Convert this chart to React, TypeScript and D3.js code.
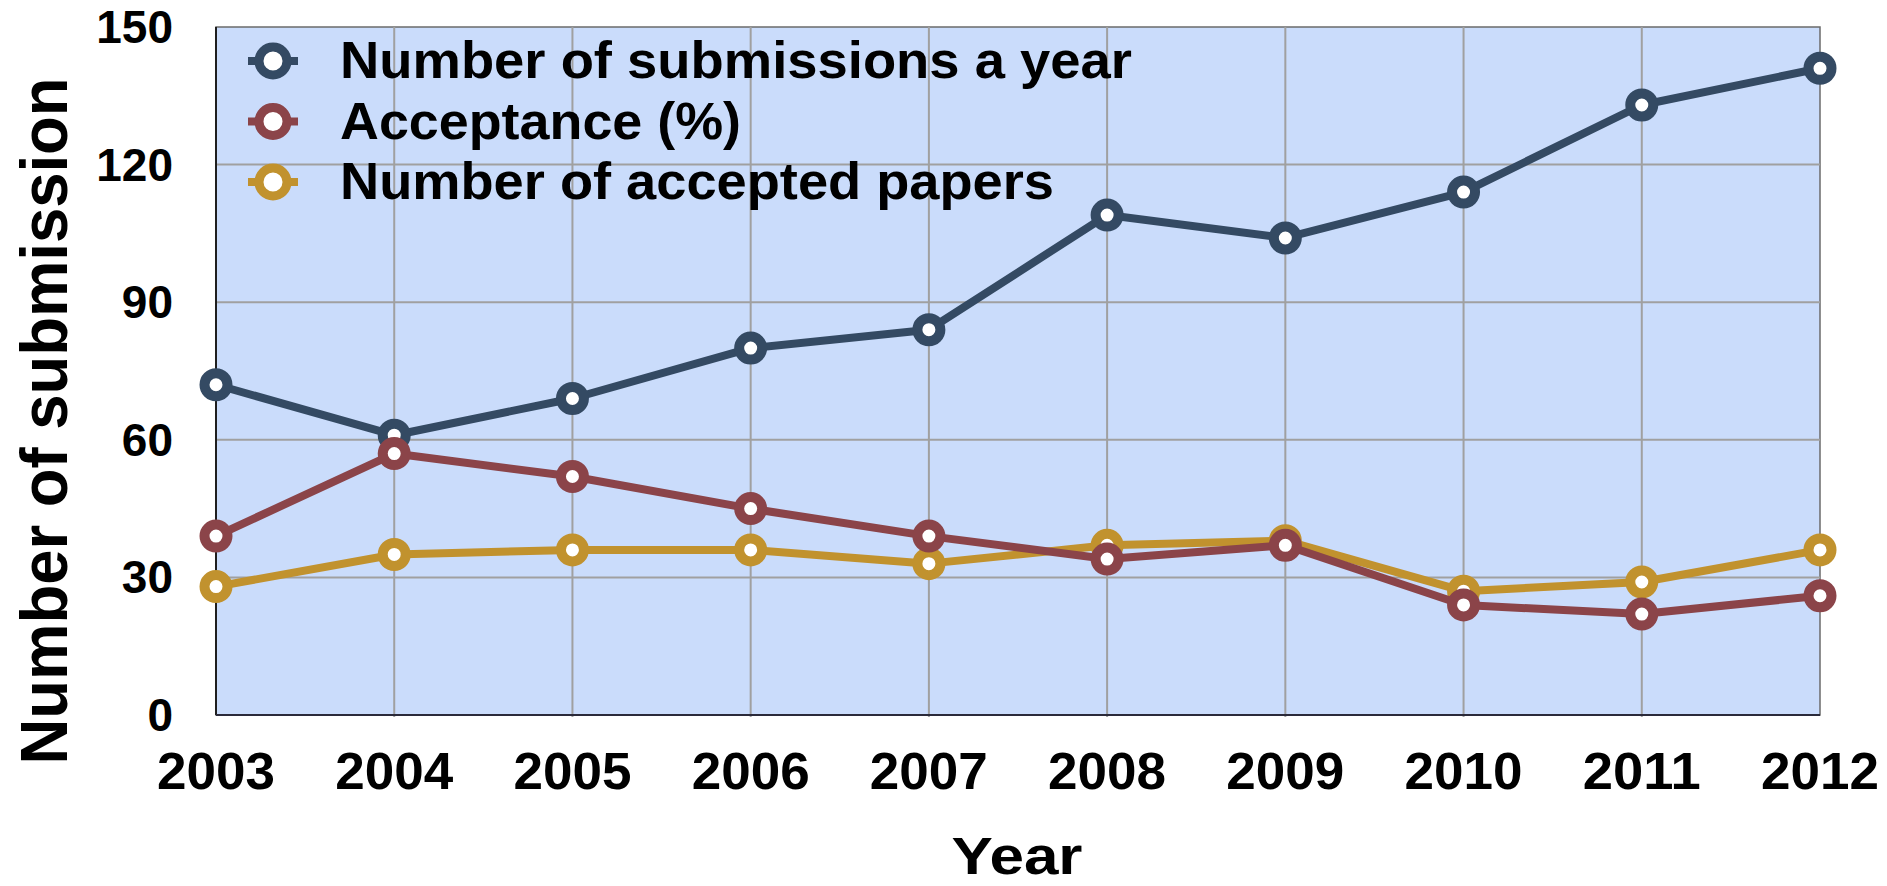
import React, { useEffect, useRef } from 'react';
import * as d3 from 'd3';

// Data
const years = [2003, 2004, 2005, 2006, 2007, 2008, 2009, 2010, 2011, 2012];
const submissions = [72, 61, 69, 80, 84, 109, 104, 114, 133, 141];
const acceptance = [39, 57, 52, 45, 39, 34, 37, 24, 22, 26];
const acceptedPapers = [28, 35, 36, 36, 33, 37, 38, 27, 29, 36];
const yTicks = [0, 30, 60, 90, 120, 150];

const seriesNames = ['Number of submissions a year', 'Acceptance (%)', 'Number of accepted papers'];
const seriesColors = ['#344A63', '#8B4449', '#C1922E'];
const legendWidths = [792, 401, 714];

const FONT = '"Liberation Sans", Arial, sans-serif';

const App = () => {
  const svgRef = useRef<SVGSVGElement | null>(null);

  useEffect(() => {
    const svg = d3.select(svgRef.current);
    svg.selectAll('*').remove();

    const W = 1887;
    const H = 886;
    const margin = { top: 27, right: 67, bottom: 171, left: 216 };
    const width = W - margin.left - margin.right;
    const height = H - margin.top - margin.bottom;

    const x = d3.scalePoint<number>().domain(years).range([0, width]);
    const y = d3.scaleLinear().domain([0, 150]).range([height, 0]);

    const g = svg.append('g').attr('transform', `translate(${margin.left},${margin.top})`);

    // plot background
    g.append('rect')
      .attr('width', width)
      .attr('height', height)
      .attr('fill', '#CADCFB')
      .attr('stroke', '#6b6b6b')
      .attr('stroke-width', 1.5);

    // grid lines
    g.append('g')
      .selectAll('line')
      .data(yTicks.filter(t => t > 0 && t < 150))
      .join('line')
      .attr('x1', 0)
      .attr('x2', width)
      .attr('y1', d => y(d))
      .attr('y2', d => y(d))
      .attr('stroke', '#a0a0a0')
      .attr('stroke-width', 2);

    g.append('g')
      .selectAll('line')
      .data(years.slice(1, -1))
      .join('line')
      .attr('x1', d => x(d)!)
      .attr('x2', d => x(d)!)
      .attr('y1', 0)
      .attr('y2', height + 2)
      .attr('stroke', '#a0a0a0')
      .attr('stroke-width', 2);

    // left and bottom axis lines
    g.append('line')
      .attr('x1', 0).attr('x2', 0)
      .attr('y1', 0).attr('y2', height)
      .attr('stroke', '#1f1f1f').attr('stroke-width', 2);
    g.append('line')
      .attr('x1', 0).attr('x2', width)
      .attr('y1', height).attr('y2', height)
      .attr('stroke', '#2a2a3a').attr('stroke-width', 2);

    // tick labels
    g.append('g')
      .selectAll('text')
      .data(yTicks)
      .join('text')
      .attr('x', -43)
      .attr('y', d => y(d) + 16)
      .attr('text-anchor', 'end')
      .style('font-family', FONT)
      .style('font-weight', 'bold')
      .style('font-size', '46px')
      .text(d => d);

    g.append('g')
      .selectAll('text')
      .data(years)
      .join('text')
      .attr('x', d => x(d)!)
      .attr('y', height + 74)
      .attr('text-anchor', 'middle')
      .style('font-family', FONT)
      .style('font-weight', 'bold')
      .style('font-size', '52px')
      .attr('textLength', 118)
      .attr('lengthAdjust', 'spacingAndGlyphs')
      .text(d => d);

    // axis titles
    svg.append('text')
      .attr('x', 1017)
      .attr('y', 874)
      .attr('text-anchor', 'middle')
      .style('font-family', FONT)
      .style('font-weight', 'bold')
      .style('font-size', '51px')
      .attr('textLength', 131)
      .attr('lengthAdjust', 'spacingAndGlyphs')
      .text('Year');

    svg.append('text')
      .attr('transform', 'translate(67,421) rotate(-90)')
      .attr('text-anchor', 'middle')
      .style('font-family', FONT)
      .style('font-weight', 'bold')
      .style('font-size', '66px')
      .attr('textLength', 687)
      .attr('lengthAdjust', 'spacingAndGlyphs')
      .text('Number of submission');

    // series (gold drawn before red, red sits on top)
    const allSeries = [submissions, acceptance, acceptedPapers];
    const drawOrder = [0, 2, 1];
    const line = d3.line<number>()
      .x((_, i) => x(years[i])!)
      .y(d => y(d));

    drawOrder.forEach(si => {
      const values = allSeries[si];
      const color = seriesColors[si];
      g.append('path')
        .datum(values)
        .attr('fill', 'none')
        .attr('stroke', color)
        .attr('stroke-width', 8)
        .attr('stroke-linejoin', 'round')
        .attr('d', line);

      g.append('g')
        .selectAll('circle')
        .data(values)
        .join('circle')
        .attr('cx', (_, i) => x(years[i])!)
        .attr('cy', d => y(d))
        .attr('r', 11.5)
        .attr('fill', 'white')
        .attr('stroke', color)
        .attr('stroke-width', 10);
    });

    // legend
    const legend = svg.append('g');
    const items = legend.selectAll('g')
      .data(seriesNames)
      .join('g')
      .attr('transform', (_, i) => `translate(0, ${61 + i * 60.5})`);

    items.append('line')
      .attr('x1', 248).attr('x2', 298)
      .attr('y1', 0).attr('y2', 0)
      .attr('stroke', (_, i) => seriesColors[i])
      .attr('stroke-width', 8);

    items.append('circle')
      .attr('cx', 273)
      .attr('cy', 0)
      .attr('r', 14)
      .attr('fill', 'white')
      .attr('stroke', (_, i) => seriesColors[i])
      .attr('stroke-width', 9);

    items.append('text')
      .attr('x', 340)
      .attr('y', 17)
      .style('font-family', FONT)
      .style('font-weight', 'bold')
      .style('font-size', '52px')
      .attr('textLength', (_, i) => legendWidths[i])
      .attr('lengthAdjust', 'spacingAndGlyphs')
      .text(d => d);
  }, []);

  return (
    <svg
      ref={svgRef}
      width={1887}
      height={886}
      style={{ position: 'absolute', left: 0, top: 0, background: 'white' }}
    />
  );
};

export default App;
